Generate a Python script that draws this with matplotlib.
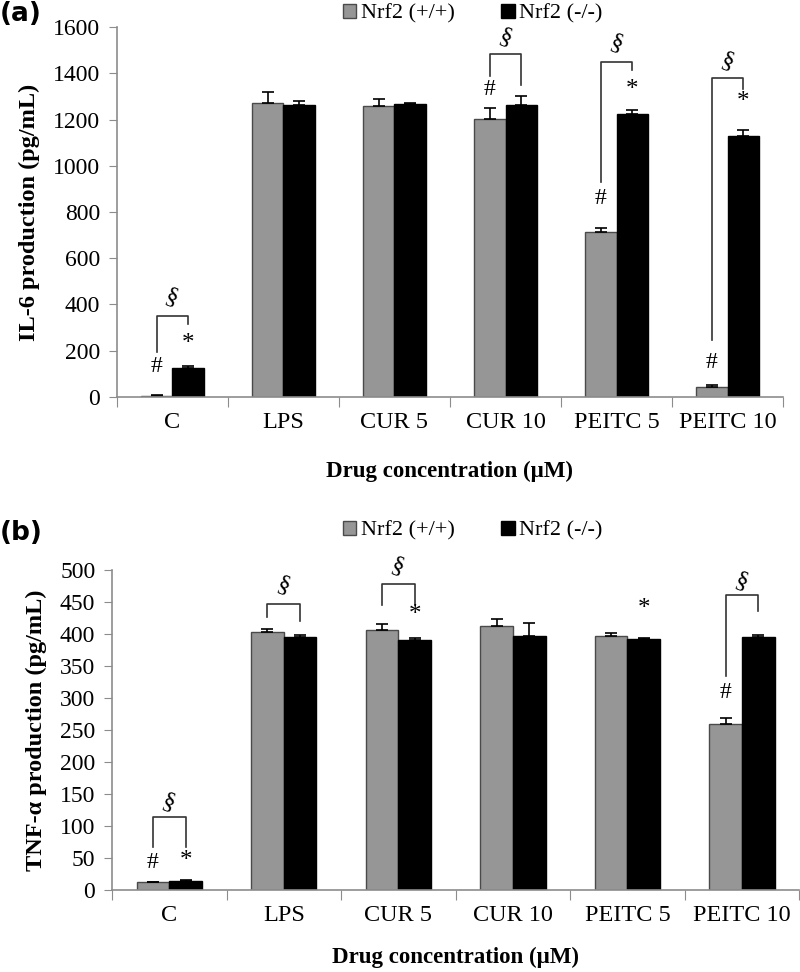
import numpy as np
import matplotlib
matplotlib.use('Agg')
import matplotlib.pyplot as plt
from matplotlib.patches import Patch

plt.rcParams['font.family'] = ['Liberation Serif', 'DejaVu Serif']

# ---- data ----
categories = ['C', 'LPS', 'CUR 5', 'CUR 10', 'PEITC 5', 'PEITC 10']
series_names = ['Nrf2 (+/+)', 'Nrf2 (-/-)']

il6_wt = [5, 1270, 1260, 1202, 712, 44]
il6_wt_err = [2, 48, 28, 48, 17, 7]
il6_ko = [124, 1262, 1268, 1262, 1224, 1129]
il6_ko_err = [10, 18, 4, 40, 15, 24]

tnf_wt = [12, 403, 406, 413, 397, 259]
tnf_wt_err = [1, 4, 9, 10, 4, 9]
tnf_ko = [14, 395, 391, 397, 392, 396]
tnf_ko_err = [2, 3, 3, 20, 1, 2]

# brackets: (category, top, left leg bottom, right leg bottom, § y)
il6_brackets = [(0, 350, 195, 316, 430), (3, 1483, 1388, 1349, 1555),
                (4, 1449, 930, 1414, 1530), (5, 1380, 246, 1332, 1450)]
il6_hash = [(0, 85), (3, 1285), (4, 815), (5, 105)]
il6_star = [(0, 180), (4, 1280), (5, 1228)]

tnf_brackets = [(0, 114, 67, 67, 137), (1, 447, 427, 420, 475),
                (2, 478, 445, 445, 505), (5, 461, 334, 436, 482)]
tnf_hash = [(0, 26), (5, 292)]
tnf_star = [(0, 28), (2, 412), (4, 422)]

GRAY = '#969696'
AXC = '#8c8c8c'
bw = 0.285


def panel(ax, wt, wt_err, ko, ko_err, ymax, ystep, ylabel, xlpad, brackets, hashes, stars):
    x = np.arange(len(categories))
    ekw = dict(ecolor='black', elinewidth=1.2, capsize=4, capthick=1.2)
    ax.bar(x - bw / 2, wt, bw, color=GRAY, edgecolor='#4a4a4a', linewidth=1.0,
           yerr=[np.zeros(len(wt)), wt_err], error_kw=ekw)
    ax.bar(x + bw / 2, ko, bw, color='black', edgecolor='black', linewidth=1.0,
           yerr=[np.zeros(len(ko)), ko_err], error_kw=ekw)
    ax.set_xlim(-0.5, len(categories) - 0.5)
    ax.set_ylim(0, ymax)
    ax.set_yticks(np.arange(0, ymax + 1, ystep))
    ax.set_xticks(np.arange(len(categories) + 1) - 0.5)
    ax.set_xticklabels([])
    ax.set_xticks(x, minor=True)
    ax.set_xticklabels(categories, minor=True)
    ax.tick_params(axis='x', which='minor', length=0, pad=11, labelsize=17.5)
    ax.tick_params(axis='x', which='major', length=7, color=AXC, direction='out')
    ax.tick_params(axis='y', length=6, color=AXC, labelsize=17, pad=6)
    for s in ['top', 'right']:
        ax.spines[s].set_visible(False)
    for s in ['left', 'bottom']:
        ax.spines[s].set_color(AXC)
        ax.spines[s].set_linewidth(1.2)
    ax.set_ylabel(ylabel, fontsize=17.5, fontweight='bold', labelpad=9)
    ax.set_xlabel('Drug concentration (\u00b5M)', fontsize=16.5, fontweight='bold', labelpad=xlpad)

    for c, top, lb, rb, sy in brackets:
        xl, xr = c - bw / 2, c + bw / 2
        ax.plot([xl, xl, xr, xr], [lb, top, top, rb], color='#333333', lw=1.2, clip_on=False)
        ax.text(c, sy, '\u00a7', ha='center', va='center', fontsize=18, rotation=-20, clip_on=False)
    for c, yv in hashes:
        ax.text(c - bw / 2, yv, '#', ha='center', va='bottom', fontsize=17)
    for c, yv in stars:
        ax.text(c + bw / 2, yv, '*', ha='center', va='bottom', fontsize=18)


fig = plt.figure(figsize=(8, 9.72), dpi=100)
ax1 = fig.add_axes([0.146, 0.5916, 0.833, 0.3806])
ax2 = fig.add_axes([0.140, 0.0844, 0.859, 0.3292])

panel(ax1, il6_wt, il6_wt_err, il6_ko, il6_ko_err, 1600, 200, 'IL-6 production (pg/mL)', 20,
      il6_brackets, il6_hash, il6_star)
panel(ax2, tnf_wt, tnf_wt_err, tnf_ko, tnf_ko_err, 500, 50, 'TNF-\u03b1 production (pg/mL)', 15,
      tnf_brackets, tnf_hash, tnf_star)

handles = [Patch(facecolor=GRAY, edgecolor='#4a4a4a'), Patch(facecolor='black', edgecolor='black')]
for ly, tag, ty in [(0.986, '(a)', 0.986), (0.454, '(b)', 0.452)]:
    fig.legend(handles, series_names, loc='center', bbox_to_anchor=(0.591, ly),
               ncol=2, frameon=False, fontsize=16, handlelength=0.6, handleheight=0.6,
               handletextpad=0.2, columnspacing=2.1, borderaxespad=0, borderpad=0)
    fig.text(0.0, ty, tag, fontsize=19, fontweight='bold', family='DejaVu Sans', va='center', ha='left')

fig.savefig('out.png', dpi=100)
